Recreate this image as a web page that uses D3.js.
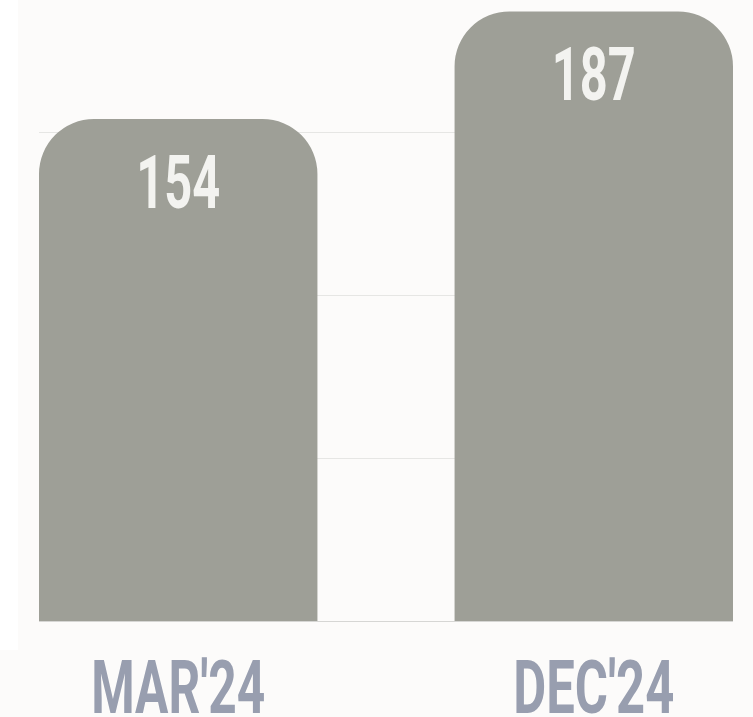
<!DOCTYPE html>
<html>
<head>
<meta charset="utf-8">
<script src="https://cdn.jsdelivr.net/npm/d3@7"></script>
<style>
  html, body { margin: 0; padding: 0; background: #fcfbfa; }
  svg { display: block; }
</style>
</head>
<body>
<svg id="chart" width="753" height="717"></svg>
<script>
const categories = ["MAR'24", "DEC'24"];
const values = [154, 187];
const gridTicks = [0, 50, 100, 150];

const W = 753, H = 717;
const svg = d3.select("#chart");

svg.append("rect").attr("x", 0).attr("y", 0).attr("width", W).attr("height", H).attr("fill", "#fcfbfa");
svg.append("rect").attr("x", 0).attr("y", 0).attr("width", 18).attr("height", 650).attr("fill", "#ffffff");

const x = d3.scaleBand().domain(categories).range([39, 733]).paddingInner(0.33).paddingOuter(0);
const y = d3.scaleLinear().domain([0, 190]).range([621, 621 - 190 * 3.26]);

// gridlines
svg.append("g").selectAll("line").data(gridTicks).join("line")
  .attr("x1", 39).attr("x2", 733)
  .attr("y1", d => Math.round(y(d)) + 0.5).attr("y2", d => Math.round(y(d)) + 0.5)
  .attr("stroke", d => d === 0 ? "#d6d6d4" : "#e6e6e4")
  .attr("stroke-width", 1);

// bars with rounded top corners
const R = 55;
function barPath(x0, w, top, bottom) {
  const p = d3.path();
  const r = Math.min(R, w / 2, (bottom - top));
  p.moveTo(x0, bottom);
  p.lineTo(x0, top + r);
  p.arcTo(x0, top, x0 + r, top, r);
  p.lineTo(x0 + w - r, top);
  p.arcTo(x0 + w, top, x0 + w, top + r, r);
  p.lineTo(x0 + w, bottom);
  p.closePath();
  return p.toString();
}

const data = categories.map((c, i) => ({ c, v: values[i] }));

svg.append("g").selectAll("path").data(data).join("path")
  .attr("d", d => barPath(x(d.c), x.bandwidth(), y(d.v), y(0)))
  .attr("fill", "#9e9f97");

// value labels
const fontStack = "'Liberation Sans Narrow', Roboto, 'Noto Sans', sans-serif";
svg.append("g").selectAll("text").data(data).join("text")
  .attr("x", d => x(d.c) + x.bandwidth() / 2)
  .attr("y", d => y(d.v) + 89)
  .attr("text-anchor", "middle")
  .attr("font-family", fontStack)
  .attr("font-weight", 700)
  .attr("font-size", 74)
  .attr("textLength", 84)
  .attr("lengthAdjust", "spacingAndGlyphs")
  .attr("fill", "#f3f3f0")
  .text(d => d.v);

// category labels
const labelWidths = [174, 161];
svg.append("g").selectAll("text").data(data).join("text")
  .attr("x", d => x(d.c) + x.bandwidth() / 2)
  .attr("y", 713)
  .attr("text-anchor", "middle")
  .attr("font-family", fontStack)
  .attr("font-weight", 700)
  .attr("font-size", 74)
  .attr("textLength", (d, i) => labelWidths[i])
  .attr("lengthAdjust", "spacingAndGlyphs")
  .attr("fill", "#989eaf")
  .text(d => d.c);
</script>
</body>
</html>
